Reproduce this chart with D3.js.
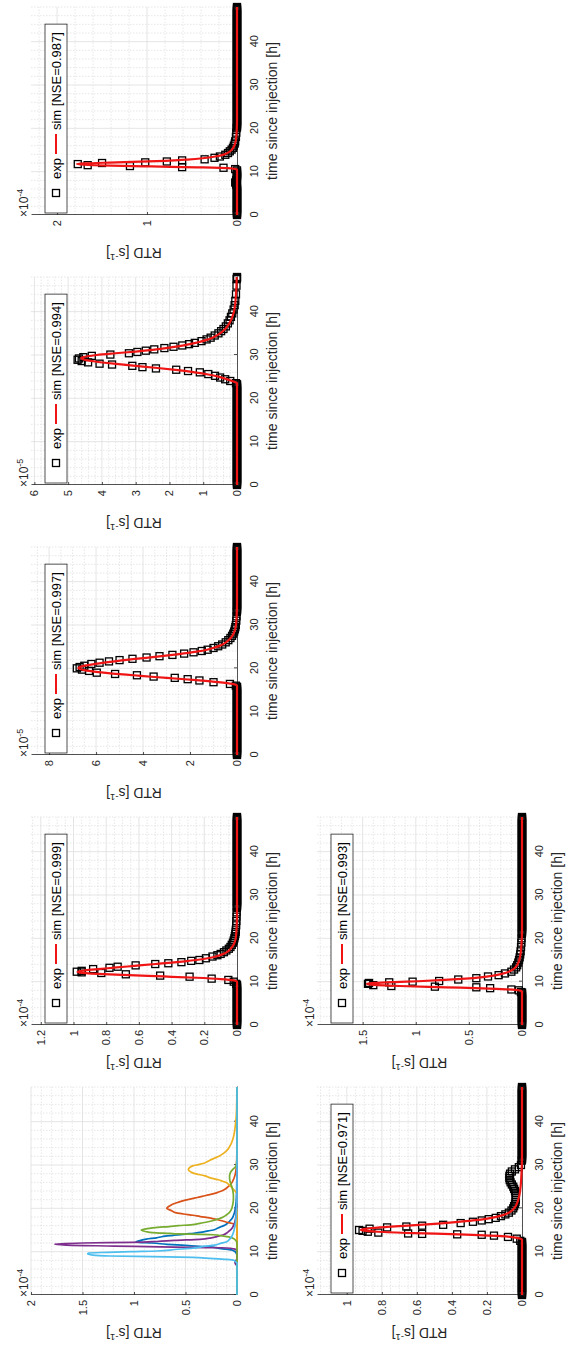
<!DOCTYPE html>
<html><head><meta charset="utf-8">
<script src="https://cdn.jsdelivr.net/npm/d3@7/dist/d3.min.js"></script>
<style>html,body{margin:0;padding:0;background:#fff;}svg{display:block;}</style>
</head><body>
<svg id="chart" width="571" height="1352"></svg>
<script>
// ================= DATA =================
// exp sampling hours on the flat baseline (value 0 outside each listed peak)
const sampleHours = [0,0.25,0.5,0.75,1,1.25,1.5,1.75,2,2.25,2.5,2.75,3,3.25,3.5,3.75,4,4.25,4.5,4.75,5,5.25,5.5,5.75,6,6.25,6.5,6.75,7,7.25,7.5,7.75,8,8.25,8.5,8.75,9,9.25,9.5,9.75,10,10.25,10.5,10.75,11,11.25,11.5,11.75,12,12.25,12.5,12.75,13,13.25,13.5,13.75,14,14.25,14.5,14.75,15,15.25,15.5,15.75,16,16.25,16.5,16.75,17,17.25,17.5,17.75,18,18.25,18.5,18.75,19,19.25,19.5,19.75,20,20.25,20.5,20.75,21,21.25,21.5,21.75,22,22.25,22.5,22.75,23,23.25,23.5,23.75,24,24.25,24.5,24.75,25,25.25,25.5,25.75,26,26.25,26.5,26.75,27,27.25,27.5,27.75,28,28.25,28.5,28.75,29,29.25,29.5,29.75,30,30.25,30.5,30.75,31,31.25,31.5,31.75,32,32.25,32.5,32.75,33,33.25,33.5,33.75,34,34.25,34.5,34.75,35,35.25,35.5,35.75,36,36.25,36.5,36.75,37,37.25,37.5,37.75,38,38.25,38.5,38.75,39,39.25,39.5,39.75,40,40.25,40.5,40.75,41,41.25,41.5,41.75,42,42.25,42.5,42.75,43,43.25,43.5,43.75,44,44.25,44.5,44.75,45,45.25,45.5,45.75,46,46.25,46.5,46.75,47,47.25,47.5,47.75,48];
const timeTicks = [0,10,20,30,40];
const timeMax = 48;

// [hour, RTD] ; RTD in units of 10^exponent s^-1 (see exponents below)
const exp999 = [[9.5,0.005],[10.0,0.02],[10.4,0.053],[10.7,0.155],[11.15,0.29],[11.4,0.47],[11.7,0.68],[12.0,0.83],[12.15,0.95],[12.3,0.98],[12.5,0.95],[12.9,0.88],[13.2,0.78],[13.45,0.73],[13.76,0.62],[14.07,0.50],[14.25,0.42],[14.5,0.34],[14.8,0.28],[15.0,0.23],[15.4,0.19],[15.8,0.15],[16.1,0.12],[16.4,0.10],[16.8,0.08],[17.2,0.065],[17.6,0.05],[18.0,0.04],[18.5,0.032],[19.0,0.025],[19.5,0.02],[20,0.016],[20.5,0.013],[21,0.01],[21.5,0.008],[22,0.007],[23,0.005],[24,0.004],[25,0.003],[26,0.002],[27,0.001]];
const sim999 = [[0,0],[10.0,0],[10.3,0.02],[10.6,0.1],[10.9,0.25],[11.2,0.45],[11.5,0.66],[11.8,0.85],[12.1,0.96],[12.3,0.975],[12.6,0.93],[12.9,0.85],[13.2,0.76],[13.5,0.67],[13.8,0.58],[14.1,0.49],[14.4,0.4],[14.7,0.32],[15.0,0.25],[15.4,0.18],[15.8,0.13],[16.3,0.09],[17,0.055],[18,0.03],[19,0.015],[20,0.008],[22,0.003],[25,0],[48,0]];

const exp997 = [[16.0,0.05],[16.4,0.3],[16.8,1.0],[17.2,1.6],[17.5,2.1],[17.8,2.65],[18.1,3.55],[18.4,4.26],[18.7,5.19],[19.0,5.97],[19.4,6.3],[19.7,6.6],[20.0,6.82],[20.3,6.7],[20.6,6.5],[21.0,6.2],[21.3,5.85],[21.6,5.45],[21.9,5.0],[22.2,4.45],[22.5,3.85],[22.8,3.3],[23.1,2.75],[23.4,2.25],[23.7,1.85],[24.0,1.5],[24.3,1.25],[24.7,1.0],[25.1,0.8],[25.5,0.63],[26.0,0.48],[26.5,0.37],[27,0.28],[27.5,0.21],[28,0.16],[28.5,0.12],[29,0.09],[29.5,0.07],[30,0.05],[31,0.03],[32,0.02],[33,0.01]];
const sim997 = [[0,0],[16.0,0],[16.4,0.2],[16.8,0.8],[17.2,1.6],[17.6,2.5],[18.0,3.5],[18.4,4.4],[18.8,5.3],[19.2,6.0],[19.6,6.5],[20.0,6.75],[20.3,6.7],[20.7,6.4],[21.1,5.95],[21.5,5.4],[21.9,4.8],[22.3,4.1],[22.7,3.4],[23.1,2.75],[23.5,2.15],[23.9,1.65],[24.3,1.28],[24.8,0.95],[25.3,0.7],[26,0.47],[27,0.27],[28,0.15],[29,0.08],[30,0.045],[32,0.015],[35,0],[48,0]];

const exp994 = [[23.5,0.03],[24.0,0.2],[24.4,0.35],[24.8,0.5],[25.2,0.65],[25.6,0.85],[26.0,1.1],[26.3,1.45],[26.6,1.8],[26.9,2.4],[27.2,2.8],[27.5,3.1],[27.8,3.7],[28.0,4.07],[28.3,4.41],[28.6,4.6],[28.9,4.72],[29.2,4.68],[29.5,4.55],[29.8,4.3],[30.1,3.75],[30.4,3.2],[30.7,2.95],[31.0,2.7],[31.3,2.45],[31.6,2.15],[31.9,1.88],[32.2,1.62],[32.5,1.42],[32.8,1.25],[33.2,1.05],[33.6,0.9],[34.0,0.78],[34.5,0.66],[35,0.55],[35.5,0.47],[36,0.4],[36.6,0.33],[37.3,0.27],[38,0.22],[38.8,0.18],[39.6,0.14],[40.5,0.1],[41.5,0.07],[42.5,0.05],[44,0.03],[46,0.015],[47.5,0.01]];
const sim994 = [[0,0],[23.5,0],[24,0.15],[24.5,0.33],[25,0.55],[25.5,0.85],[26,1.25],[26.5,1.75],[27,2.35],[27.5,3.0],[28,3.65],[28.5,4.2],[29,4.55],[29.3,4.62],[29.6,4.5],[30,4.15],[30.4,3.6],[30.8,3.0],[31.2,2.5],[31.6,2.1],[32,1.75],[32.5,1.4],[33,1.12],[33.5,0.9],[34,0.73],[35,0.5],[36,0.35],[37,0.25],[38,0.18],[39,0.13],[40,0.09],[42,0.05],[44,0.03],[46,0.015],[48,0.01]];

const exp987 = [[7.0,0.01],[7.5,0.02],[8.0,0.01],[8.25,0],[8.5,0],[8.75,0],[9.0,0],[9.25,0],[9.5,0],[9.75,0],[10.0,0],[10.3,0],[10.6,0.02],[10.9,0.15],[11.05,0.61],[11.3,1.19],[11.5,1.66],[11.75,1.77],[12.0,1.50],[12.15,1.02],[12.35,0.78],[12.6,0.61],[12.85,0.36],[13.2,0.25],[13.5,0.19],[13.9,0.13],[14.3,0.1],[14.7,0.08],[15.1,0.06],[15.5,0.045],[16,0.035],[16.5,0.025],[17,0.02],[18,0.012],[19,0.008],[20,0.005]];
const sim987 = [[0,0],[10.5,0],[10.8,0.1],[11.0,0.45],[11.2,0.95],[11.4,1.4],[11.6,1.7],[11.75,1.78],[11.9,1.7],[12.1,1.42],[12.3,1.08],[12.5,0.8],[12.8,0.55],[13.1,0.38],[13.5,0.24],[14,0.14],[14.5,0.09],[15,0.06],[16,0.03],[17,0.015],[18,0.008],[20,0.002],[22,0],[48,0]];

const exp971 = [[12.5,0.01],[13.0,0.03],[13.4,0.08],[13.7,0.16],[13.9,0.23],[14.0,0.37],[14.1,0.57],[14.2,0.65],[14.4,0.82],[14.6,0.88],[14.8,0.91],[15.0,0.93],[15.3,0.87],[15.6,0.77],[15.8,0.66],[16.0,0.57],[16.2,0.45],[16.6,0.35],[16.9,0.28],[17.2,0.23],[17.5,0.19],[17.8,0.15],[18.2,0.12],[18.6,0.095],[19.0,0.075],[19.5,0.06],[20,0.05],[20.5,0.045],[21,0.04],[21.5,0.037],[22,0.035],[22.5,0.035],[23,0.035],[23.5,0.037],[24,0.04],[24.5,0.045],[25,0.05],[25.5,0.058],[26,0.065],[26.5,0.07],[27,0.072],[27.5,0.072],[28,0.068],[28.5,0.058],[29,0.04],[29.5,0.018],[30,0.006],[31,0.002]];
const sim971 = [[0,0],[12.8,0],[13.2,0.03],[13.6,0.12],[14.0,0.36],[14.3,0.62],[14.6,0.82],[14.9,0.91],[15.1,0.92],[15.4,0.87],[15.7,0.77],[16.0,0.65],[16.4,0.5],[16.8,0.38],[17.2,0.28],[17.7,0.19],[18.2,0.13],[19,0.075],[20,0.045],[21,0.03],[23,0.015],[25,0.008],[28,0.003],[32,0],[48,0]];

const exp993 = [[7.6,0.01],[8.0,0.03],[8.2,0.1],[8.5,0.3],[8.7,0.43],[8.85,0.82],[9.0,1.23],[9.2,1.40],[9.5,1.45],[9.7,1.44],[9.85,1.25],[10.0,1.03],[10.15,0.78],[10.5,0.6],[10.8,0.43],[11.2,0.32],[11.5,0.22],[11.9,0.16],[12.3,0.10],[12.8,0.075],[13.3,0.055],[13.8,0.045],[14.4,0.035],[15,0.028],[15.6,0.022],[16.3,0.017],[17,0.013],[18,0.009],[19,0.006],[20,0.004],[21,0.002]];
const sim993 = [[0,0],[7.8,0],[8.1,0.06],[8.4,0.3],[8.7,0.72],[9.0,1.15],[9.3,1.42],[9.5,1.46],[9.7,1.38],[9.9,1.2],[10.1,0.98],[10.4,0.73],[10.7,0.53],[11.0,0.39],[11.4,0.27],[11.8,0.19],[12.3,0.125],[13,0.075],[14,0.042],[15.5,0.02],[18,0.007],[22,0],[48,0]];

const nseLabels = ["0.999","0.997","0.994","0.987","0.971","0.993"];
const exponents = [-4,-4,-5,-5,-4,-4,-4];           // overview, 999, 997, 994, 987, 971, 993
const yLimits   = [2,1.26,8.77,6.1,2.29,1.17,1.93];
const yTicks = [[0,0.5,1,1.5,2],[0,0.2,0.4,0.6,0.8,1,1.2],[0,2,4,6,8],[0,1,2,3,4,5,6],[0,1,2],[0,0.2,0.4,0.6,0.8,1],[0,0.5,1,1.5]];
const yTickLabels = [["0","0.5","1","1.5","2"],["0","0.2","0.4","0.6","0.8","1","1.2"],["0","2","4","6","8"],["0","1","2","3","4","5","6"],["0","1","2"],["0","0.2","0.4","0.6","0.8","1"],["0","0.5","1","1.5"]];
const yMinorSteps = [0.1,0.05,0.5,0.2,0.2,0.05,0.1];
const overviewColors = ["#0072BD","#D95319","#EDB120","#7E2F8E","#77AC30","#4DBEEE"];

// ================= LAYOUT / DRAWING =================
const FONT = "'Liberation Sans', Arial, Helvetica, sans-serif";
const TXT = "#262626";
const RED = "#f01414";
const panelCol = [0,1,2,3,4,0,1], panelRow = [0,0,0,0,0,1,1];
const rowTop = [31,317], rowBottom = [237,522];

function withBaseline(peak){
  const t0 = peak[0][0], t1 = peak[peak.length-1][0];
  return sampleHours.filter(t => t < t0 || t > t1).map(t => [t,0]).concat(peak).sort((a,b)=>a[0]-b[0]);
}
const expSets = [exp999,exp997,exp994,exp987,exp971,exp993].map(withBaseline);
const simSets = [sim999,sim997,sim994,sim987,sim971,sim993];

const svg = d3.select("#chart");
const root = svg.append("g").attr("transform","translate(0,1352) rotate(-90)");

for (let i = 0; i < 7; i++){
  const left = 57 + 270*panelCol[i], right = left + 208;
  const top = rowTop[panelRow[i]], bottom = rowBottom[panelRow[i]];
  const x = d3.scaleLinear().domain([0,timeMax]).range([left,right]);
  const y = d3.scaleLinear().domain([0,yLimits[i]]).range([bottom,top]);
  const g = root.append("g");

  // grid
  const near = (a,b)=>Math.abs(a-b)<1e-9;
  const xMinor = d3.range(0,timeMax+1e-9,2).filter(t=>!timeTicks.some(k=>near(k,t)));
  const yMinor = d3.range(0,yLimits[i]+1e-9,yMinorSteps[i]).filter(v=>!yTicks[i].some(k=>near(k,v)));
  g.append("g").selectAll("line").data(xMinor).join("line")
    .attr("x1",d=>x(d)).attr("x2",d=>x(d)).attr("y1",top).attr("y2",bottom)
    .attr("stroke","#d6d6d6").attr("stroke-width",0.6).attr("stroke-dasharray","1.5,1.5");
  g.append("g").selectAll("line").data(yMinor).join("line")
    .attr("y1",d=>y(d)).attr("y2",d=>y(d)).attr("x1",left).attr("x2",right)
    .attr("stroke","#d6d6d6").attr("stroke-width",0.6).attr("stroke-dasharray","1.5,1.5");
  g.append("g").selectAll("line").data(timeTicks.filter(t=>t>0)).join("line")
    .attr("x1",d=>x(d)).attr("x2",d=>x(d)).attr("y1",top).attr("y2",bottom)
    .attr("stroke","#dedede").attr("stroke-width",0.8);
  g.append("g").selectAll("line").data(yTicks[i].filter(t=>t>0)).join("line")
    .attr("y1",d=>y(d)).attr("y2",d=>y(d)).attr("x1",left).attr("x2",right)
    .attr("stroke","#dedede").attr("stroke-width",0.8);

  // axes
  const ax = g.append("g").attr("transform",`translate(0,${bottom})`)
    .call(d3.axisBottom(x).tickValues(timeTicks).tickSizeInner(-3).tickSizeOuter(0).tickPadding(13));
  const ay = g.append("g").attr("transform",`translate(${left},0)`)
    .call(d3.axisLeft(y).tickValues(yTicks[i]).tickFormat((d,k)=>yTickLabels[i][k]).tickSizeInner(-3).tickSizeOuter(0).tickPadding(5));
  [ax,ay].forEach(a=>{
    a.attr("font-family",FONT).attr("font-size",11);
    a.selectAll("path,line").attr("stroke",TXT).attr("stroke-width",0.8);
    a.selectAll("text").attr("fill",TXT);
  });

  // labels
  g.append("text").attr("x",(left+right)/2).attr("y",bottom+40).attr("text-anchor","middle")
    .attr("font-family",FONT).attr("font-size",14).attr("fill",TXT).text("time since injection [h]");
  const yl = g.append("text").attr("transform",`translate(${left-33},${(top+bottom)/2}) rotate(-90)`)
    .attr("text-anchor","middle").attr("font-family",FONT).attr("font-size",14).attr("fill",TXT);
  yl.append("tspan").text("RTD [s");
  yl.append("tspan").attr("font-size",9.5).attr("dy",-6).text("-1");
  yl.append("tspan").attr("dy",6).text("]");
  const ex = g.append("text").attr("x",left-2).attr("y",top-3).attr("font-family",FONT)
    .attr("font-size",12).attr("fill",TXT);
  ex.append("tspan").text("\u00d710");
  ex.append("tspan").attr("font-size",9).attr("dy",-5.5).text(String(exponents[i]));

  if (i === 0){
    expSets.forEach((s,k)=>{
      const f = Math.pow(10, exponents[k+1] - exponents[0]);
      g.append("path").datum(s).attr("fill","none").attr("stroke",overviewColors[k]).attr("stroke-width",1.7)
        .attr("stroke-linejoin","round")
        .attr("d",d3.line().x(d=>x(d[0])).y(d=>y(d[1]*f)).curve(d3.curveMonotoneX));
    });
  } else {
    const s = 7;
    g.append("g").selectAll("rect").data(expSets[i-1]).join("rect")
      .attr("x",d=>x(d[0])-s/2).attr("y",d=>y(d[1])-s/2).attr("width",s).attr("height",s)
      .attr("fill","none").attr("stroke","#000").attr("stroke-width",1.3);
    g.append("path").datum(simSets[i-1]).attr("fill","none").attr("stroke",RED).attr("stroke-width",2.2)
      .attr("stroke-linejoin","round")
      .attr("d",d3.line().x(d=>x(d[0])).y(d=>y(d[1])).curve(d3.curveMonotoneX));

    // legend
    const bx = left + 2, by = top + 14, bh = 22, cy = by + bh/2;
    const lg = g.append("g").attr("font-family",FONT).attr("font-size",13).attr("fill","#000");
    const box = lg.append("rect").attr("x",bx).attr("y",by).attr("height",bh)
      .attr("fill","#fff").attr("stroke",TXT).attr("stroke-width",0.8);
    lg.append("rect").attr("x",bx+20-3.5).attr("y",cy-3.5).attr("width",7).attr("height",7)
      .attr("fill","none").attr("stroke","#000").attr("stroke-width",1.3);
    const t1 = lg.append("text").attr("x",bx+34).attr("y",cy).attr("dy","0.35em").text("exp");
    const lx0 = bx + 34 + t1.node().getComputedTextLength() + 4;
    lg.append("line").attr("x1",lx0).attr("x2",lx0+20).attr("y1",cy).attr("y2",cy)
      .attr("stroke",RED).attr("stroke-width",2);
    const t2 = lg.append("text").attr("x",lx0+24).attr("y",cy).attr("dy","0.35em")
      .text("sim [NSE=" + nseLabels[i-1] + "]");
    box.attr("width", lx0 + 24 + t2.node().getComputedTextLength() + 8 - bx);
  }
}
</script>
</body></html>
